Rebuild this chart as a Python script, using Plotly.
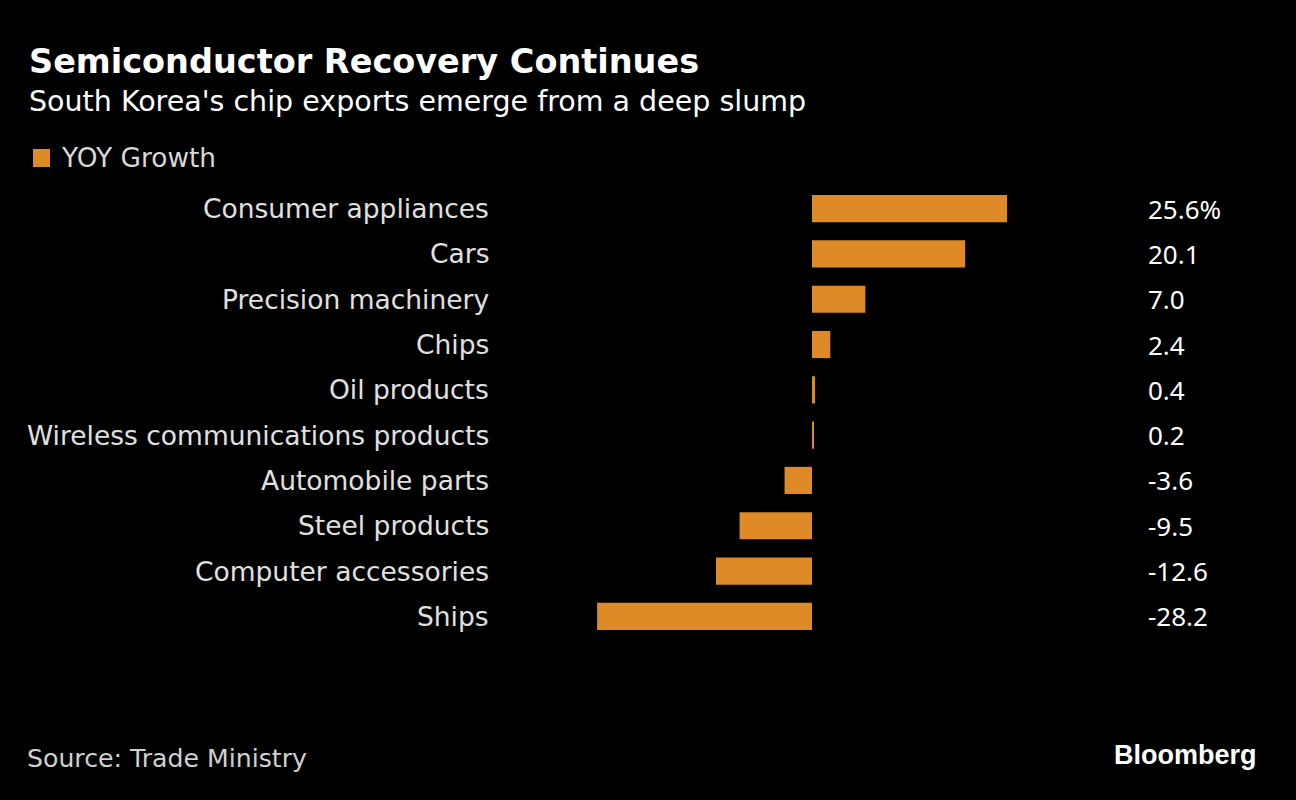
import plotly.graph_objects as go

categories = ["Consumer appliances", "Cars", "Precision machinery", "Chips", "Oil products",
              "Wireless communications products", "Automobile parts", "Steel products",
              "Computer accessories", "Ships"]
values = [25.6, 20.1, 7.0, 2.4, 0.4, 0.2, -3.6, -9.5, -12.6, -28.2]
value_labels = ["25.6%", "20.1", "7.0", "2.4", "0.4", "0.2", "-3.6", "-9.5", "-12.6", "-28.2"]

W, H = 1296, 800
BAR = "#DE8A26"
zero_px = 812.0
px_per_unit = 7.62
x_range = [-zero_px / px_per_unit, (W - zero_px) / px_per_unit]

top_px, bottom_px = 186.0, 639.0
FONT = "DejaVu Sans"


def py(p):
    return (bottom_px - p) / (bottom_px - top_px)


fig = go.Figure()
fig.add_trace(go.Bar(
    x=values, y=categories, orientation="h",
    marker=dict(color=BAR, line=dict(width=0)),
    width=0.6, showlegend=False, hoverinfo="skip",
))

annotations = []
n = len(categories)
for c, lab in zip(categories, value_labels):
    annotations.append(dict(x=491 / W, xref="paper", y=c, yref="y", text=c, showarrow=False,
                            xanchor="right", yanchor="middle",
                            font=dict(family=FONT, size=26.5, color="#e0e0e0")))
    annotations.append(dict(x=1146 / W, xref="paper", y=c, yref="y", text=lab, showarrow=False,
                            xanchor="left", yanchor="middle",
                            font=dict(family="Noto Sans", size=26, color="#ffffff")))

annotations += [
    dict(x=27 / W, xref="paper", y=py(62), yref="paper", text="<b>Semiconductor Recovery Continues</b>",
         showarrow=False, xanchor="left", yanchor="middle",
         font=dict(family=FONT, size=33.5, color="#ffffff")),
    dict(x=27 / W, xref="paper", y=py(102), yref="paper", text="South Korea's chip exports emerge from a deep slump",
         showarrow=False, xanchor="left", yanchor="middle",
         font=dict(family=FONT, size=28.5, color="#ffffff")),
    dict(x=59 / W, xref="paper", y=py(158), yref="paper", text="YOY Growth",
         showarrow=False, xanchor="left", yanchor="middle",
         font=dict(family=FONT, size=26.4, color="#d8d8d8")),
    dict(x=25 / W, xref="paper", y=py(758), yref="paper", text="Source: Trade Ministry",
         showarrow=False, xanchor="left", yanchor="middle",
         font=dict(family=FONT, size=25.2, color="#d0d0d0")),
    dict(x=1259 / W, xref="paper", y=py(755), yref="paper", text="<b>Bloomberg</b>",
         showarrow=False, xanchor="right", yanchor="middle",
         font=dict(family="Liberation Sans", size=27, color="#ffffff")),
]

fig.update_layout(
    width=W, height=H,
    paper_bgcolor="#000000", plot_bgcolor="#000000",
    margin=dict(l=0, r=0, t=top_px, b=H - bottom_px, pad=0),
    xaxis=dict(range=x_range, visible=False, fixedrange=True),
    yaxis=dict(categoryorder="array", categoryarray=categories[::-1], visible=False,
               range=[-0.5, n - 0.5], fixedrange=True),
    annotations=annotations,
    shapes=[dict(type="rect", xref="paper", yref="paper",
                 x0=33 / W, x1=50 / W, y0=py(167), y1=py(149),
                 fillcolor=BAR, line=dict(width=0))],
)

fig.write_html("out.html", config={"displayModeBar": False},
               post_script="document.body.style.margin='0';document.body.style.background='#000';")
